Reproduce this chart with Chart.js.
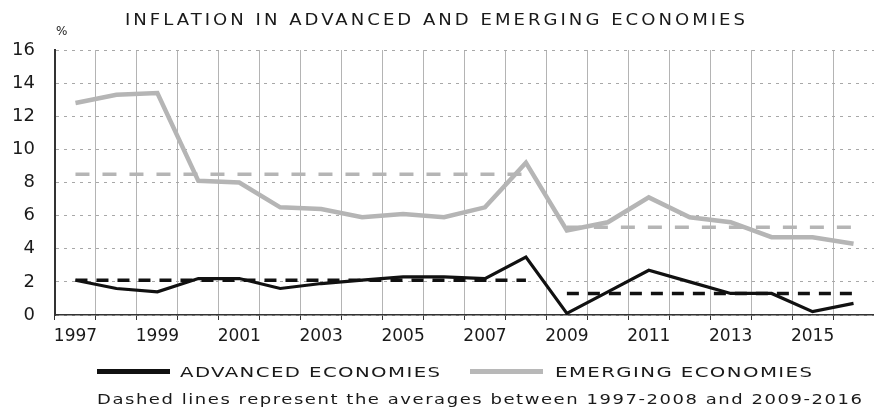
<!DOCTYPE html>
<html><head><meta charset="utf-8">
<script src="https://cdn.jsdelivr.net/npm/chart.js@4/dist/chart.umd.min.js"></script>
<style>
html,body{margin:0;padding:0;background:#fff;}
#wrap{position:relative;width:874px;height:408px;overflow:hidden;font-family:"DejaVu Sans",sans-serif;color:#1a1a1a;}
canvas{position:absolute;left:0;top:0;}
.t{position:absolute;white-space:nowrap;line-height:1;transform-origin:0 50%;}
.sw{position:absolute;height:5px;}
</style></head><body>
<div id="wrap">
<canvas id="c" width="874" height="408"></canvas>
<div class="t" data-w="620" data-ls="2.5" style="left:125px;top:13px;font-size:15px;">INFLATION IN ADVANCED AND EMERGING ECONOMIES</div>
<div class="t" style="left:56px;top:25px;font-size:12px;">%</div>
<div class="sw" style="left:97px;top:369px;width:73px;background:#111;"></div>
<div class="t" data-w="260" data-ls="1" style="left:180px;top:365px;font-size:14px;">ADVANCED ECONOMIES</div>
<div class="sw" style="left:470px;top:369px;width:73px;background:#b8b8b8;"></div>
<div class="t" data-w="257" data-ls="1" style="left:555px;top:365px;font-size:14px;">EMERGING ECONOMIES</div>
<div class="t" data-w="765" data-ls="1.2" style="left:97px;top:392px;font-size:14px;">Dashed lines represent the averages between 1997-2008 and 2009-2016</div>
</div>
<script>
const years = ['1997','1998','1999','2000','2001','2002','2003','2004','2005','2006','2007','2008','2009','2010','2011','2012','2013','2014','2015','2016'];
const tickYears = ['1997','1999','2001','2003','2005','2007','2009','2011','2013','2015'];
const advanced = [2.1,1.6,1.4,2.2,2.2,1.6,1.9,2.1,2.3,2.3,2.2,3.5,0.1,1.4,2.7,2.0,1.3,1.3,0.2,0.7];
const emerging = [12.8,13.3,13.4,8.1,8.0,6.5,6.4,5.9,6.1,5.9,6.5,9.2,5.1,5.6,7.1,5.9,5.6,4.7,4.7,4.3];
const avgPeriods = [['1997','2008'],['2009','2016']];
const advancedAvg = [2.1,1.3];
const emergingAvg = [8.5,5.3];
const yTicks = [0,2,4,6,8,10,12,14,16];

function periodSeries(avgs, p){
  const a = years.indexOf(avgPeriods[p][0]), b = years.indexOf(avgPeriods[p][1]);
  return years.map((y,i)=> (i>=a && i<=b) ? avgs[p] : null);
}

// stretch overlay texts horizontally to the reference widths
document.querySelectorAll('.t[data-w]').forEach(el=>{
  el.style.letterSpacing = el.dataset.ls + 'px';
  const n = el.textContent.length;
  const w = el.getBoundingClientRect().width - (+el.dataset.ls);
  el.style.transform = 'scaleX(' + ((+el.dataset.w)/w).toFixed(4) + ')';
});

const dashedBlack = {borderColor:'#111', borderWidth:3.5, borderDash:[12,9], pointRadius:0, fill:false, spanGaps:false, order:2};
const dashedGray = {borderColor:'#b5b5b5', borderWidth:3.5, borderDash:[14,13], pointRadius:0, fill:false, spanGaps:false, order:3};

new Chart(document.getElementById('c'), {
  type:'line',
  data:{
    labels: years,
    datasets:[
      {label:'ADVANCED ECONOMIES', data:advanced, borderColor:'#111', borderWidth:3.2, pointRadius:0, tension:0, order:0},
      {label:'EMERGING ECONOMIES', data:emerging, borderColor:'#b5b5b5', borderWidth:4.5, pointRadius:0, tension:0, order:1},
      Object.assign({label:'adv avg 1', data:periodSeries(advancedAvg,0)}, dashedBlack),
      Object.assign({label:'adv avg 2', data:periodSeries(advancedAvg,1)}, dashedBlack),
      Object.assign({label:'em avg 1', data:periodSeries(emergingAvg,0)}, dashedGray),
      Object.assign({label:'em avg 2', data:periodSeries(emergingAvg,1)}, dashedGray)
    ]
  },
  options:{
    responsive:false, devicePixelRatio:1, animation:false,
    layout:{padding:{top:50,left:0,right:0,bottom:0}},
    plugins:{legend:{display:false}, tooltip:{enabled:false}},
    scales:{
      x:{
        offset:true,
        afterFit:(s)=>{s.height=93;},
        grid:{offset:true, color:'#b4b4b4', lineWidth:1, drawTicks:true, tickLength:5, tickColor:'#333', tickWidth:1},
        border:{display:true, color:'#333', width:1.5},
        ticks:{autoSkip:false, maxRotation:0, minRotation:0, padding:6, color:'#1a1a1a',
          font:{family:'DejaVu Sans', size:17},
          callback:function(v,i){ const l=years[i]; return tickYears.includes(l)? l : ''; }}
      },
      y:{
        min:0, max:16,
        afterFit:(s)=>{s.width=55;},
        afterBuildTicks:(s)=>{s.ticks = yTicks.map(v=>({value:v}));},
        grid:{color:'#a8a8a8', lineWidth:1, drawTicks:false, tickBorderDash:[]},
        border:{display:true, color:'#333', width:2, dash:[3,5]},
        ticks:{padding:20, color:'#1a1a1a', font:{family:'DejaVu Sans', size:18}}
      }
    }
  }
});
</script>
</body></html>
